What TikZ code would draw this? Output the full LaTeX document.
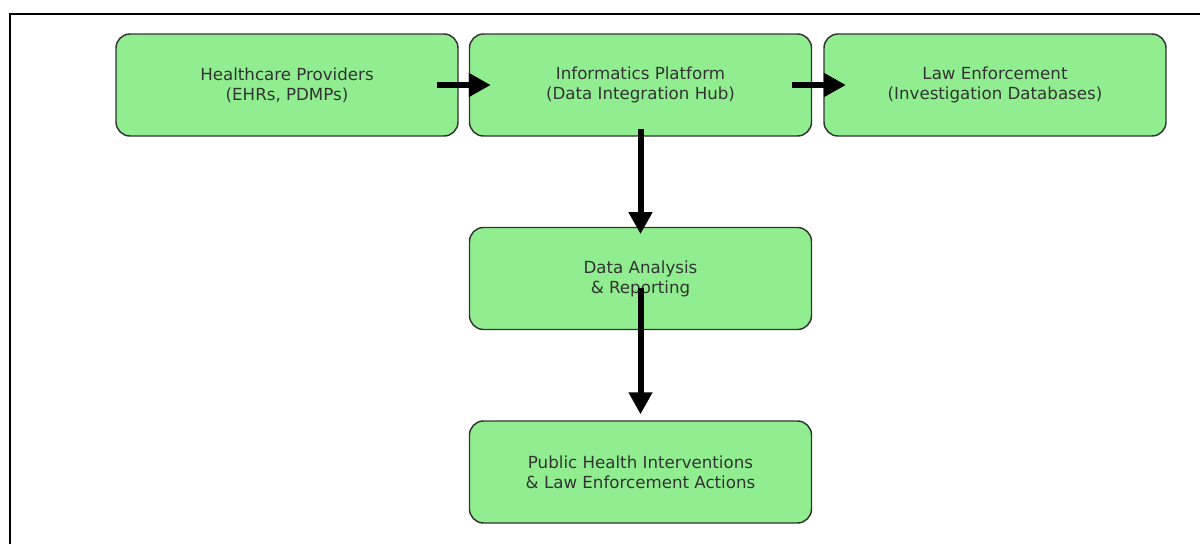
\documentclass[tikz,border=0pt]{standalone}
\usepackage{fontspec}
\setmainfont{DejaVu Sans}
\usetikzlibrary{arrows.meta}
\definecolor{boxfill}{HTML}{90EE90}
\definecolor{boxline}{HTML}{333333}
\definecolor{txt}{HTML}{333333}
\tikzset{
  box/.style={draw=boxline, line width=1.1pt, fill=boxfill, rounded corners=10.5pt,
    minimum width=256.5pt, minimum height=76.5pt, inner sep=0pt, align=center,
    text=txt, font=\fontsize{12.5}{15}\selectfont},
  flow/.style={line width=4.5pt, -{Triangle[width=17pt,length=16.5pt]}},
  frameline/.style={line width=1.2pt, black}
}
\begin{document}
\begin{tikzpicture}[x=0.75pt,y=-0.75pt]
\useasboundingbox (0,0) rectangle (1200,544);
\coordinate (fa) at (10,544);
\coordinate (fb) at (10,14);
\coordinate (fc) at (1200,14);
\draw[frameline] (fa) -- (fb) -- (fc);
\node[box] (hp) at (287,85) {Healthcare Providers\\(EHRs, PDMPs)};
\node[box] (ip) at (640.5,85) {Informatics Platform\\(Data Integration Hub)};
\node[box] (le) at (995,85) {Law Enforcement\\(Investigation Databases)};
\node[box] (da) at (640.5,278.5) {Data Analysis\\\& Reporting};
\node[box] (ph) at (640.5,472) {Public Health Interventions\\\& Law Enforcement Actions};
\draw[flow] ([xshift=-16.5pt]hp.east) -- ([xshift=16.5pt]ip.west);
\draw[flow] ([xshift=-15pt]ip.east) -- ([xshift=17pt]le.west);
\draw[flow] ([yshift=5.5pt]ip.south) -- ([yshift=-5.5pt]da.north);
\draw[flow] ([yshift=31.5pt]da.south) -- ([yshift=4.5pt]ph.north);
\end{tikzpicture}
\end{document}
